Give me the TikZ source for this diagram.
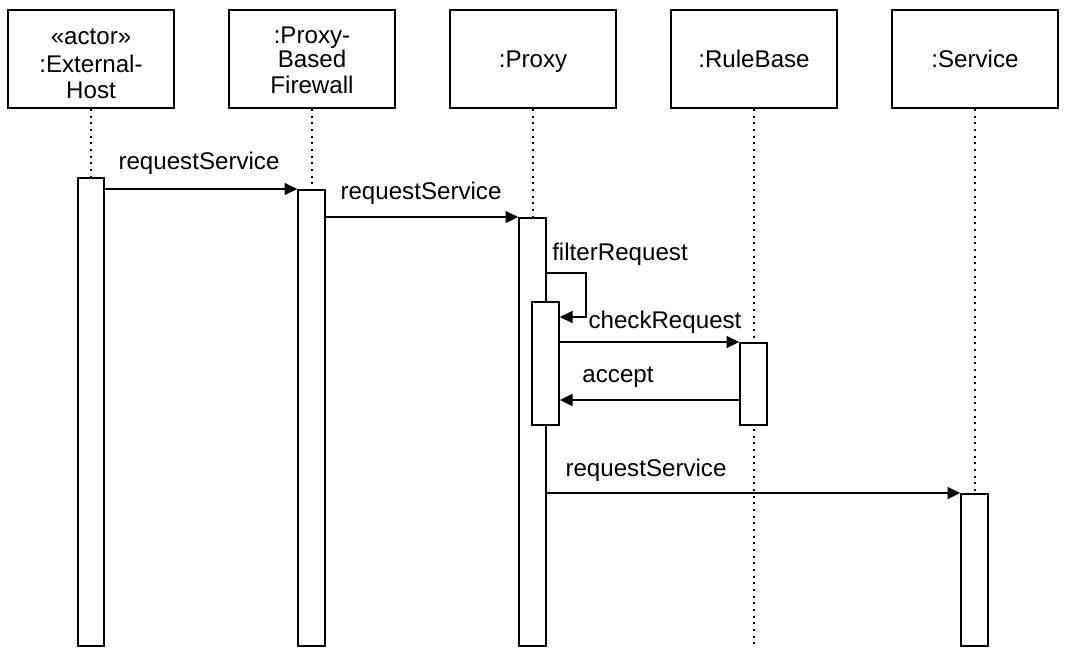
\documentclass[tikz,border=0pt]{standalone}
\usepackage{fontspec}
\setmainfont{Liberation Sans}
\usetikzlibrary{arrows.meta}
\begin{document}
\begin{tikzpicture}[x=0.75pt,y=-0.75pt,
  head/.style={draw,line width=1.5pt,minimum width=124.5pt,minimum height=73.5pt,inner sep=0pt,align=center,font=\fontsize{18.1}{19.3}\selectfont},
  single/.style={text depth=0pt},
  bar/.style={draw,fill=white,line width=1.5pt,minimum width=20pt,inner sep=0pt,anchor=north},
  life/.style={line width=1.5pt,dash pattern=on 1.5pt off 3.5pt},
  msg/.style={line width=1pt,-{Triangle[length=9.5pt,width=9pt]}},
  lbl/.style={font=\fontsize{18.1}{19.3}\selectfont,inner sep=0pt}]
\useasboundingbox (0,0) rectangle (1068,654);
% headers
\node[head] (h1) at (91,59) {\rule{0pt}{18.5pt}«actor»\\[1.5pt]:External-\\[0.25pt]Host};
\node[head] (h2) at (312,59) {\rule{0pt}{14.5pt}:Proxy-\\[-1.5pt]Based\\Firewall};
\node[head,single] (h3) at (533,59) {:Proxy};
\node[head,single] (h4) at (754,59) {:RuleBase};
\node[head,single] (h5) at (975,59) {:Service};
% lifeline ends
\coordinate (e1) at (91,645);
\coordinate (e2) at (312,645);
\coordinate (e3) at (533,645);
\coordinate (e4) at (754,645);
\coordinate (e5) at (975,645);
\draw[life] (h1.south) -- (e1);
\draw[life] (h2.south) -- (e2);
\draw[life] (h3.south) -- (e3);
\draw[life] (h4.south) -- (e4);
\draw[life] (h5.south) -- (e5);
% activation bars
\node[bar,minimum height=351pt] (b1) at (91,177) {};
\node[bar,minimum height=342pt] (b2) at (311.5,189) {};
\node[bar,minimum height=321pt] (b3) at (532.5,217) {};
\node[bar,minimum height=92.25pt] (b3n) at (545.5,301) {};
\node[bar,minimum height=61.5pt] (b4) at (753.5,342) {};
\node[bar,minimum height=114pt] (b5) at (974.5,493) {};
% helper coordinates
\coordinate (yf) at (0,273);
\coordinate (yfr) at (586,273);
\coordinate (yfe) at (0,317);
\coordinate (ya) at (0,400);
% messages
\draw[msg] (b1.east |- b2.north) -- (b2.north west);
\draw[msg] (b2.east |- b3.north) -- (b3.north west);
\draw[msg] (b3.east |- yf) -- (yfr) |- (b3n.east |- yfe);
\draw[msg] (b3n.east |- b4.north) -- (b4.north west);
\draw[msg] (b4.west |- ya) -- (b3n.east |- ya);
\draw[msg] (b3.east |- b5.north) -- (b5.north west);
% labels
\node[lbl] (l1) at (199,163) {requestService};
\node[lbl] (l2) at (421,193) {requestService};
\node[lbl] (l3) at (620,254) {filterRequest};
\node[lbl] (l4) at (665,322) {checkRequest};
\node[lbl] (l5) at (618,377) {accept};
\node[lbl] (l6) at (646,470) {requestService};
\end{tikzpicture}
\end{document}
